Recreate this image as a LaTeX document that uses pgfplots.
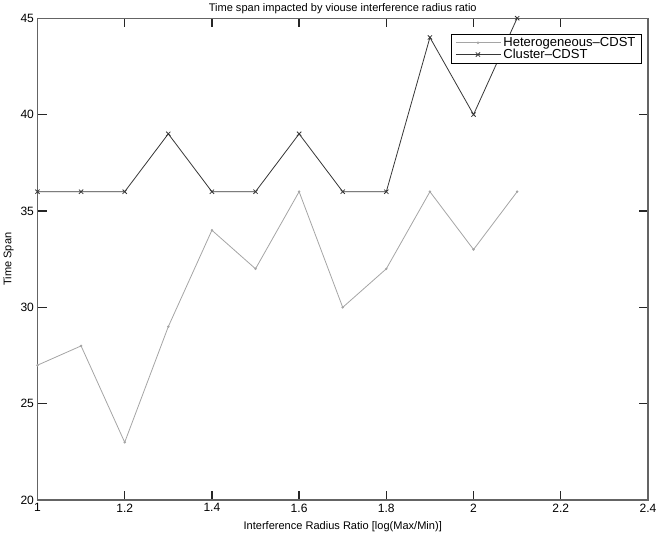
\documentclass[border=0pt]{standalone}
\usepackage{fontspec}
\setmainfont{Liberation Sans}
\usepackage{pgfplots}
\pgfplotsset{compat=1.18}
\definecolor{hetc}{RGB}{165,165,165}
\definecolor{clc}{RGB}{55,55,55}
\definecolor{axc}{RGB}{100,100,100}
\begin{document}
\begin{tikzpicture}
\begin{axis}[
  scale only axis,
  width=608pt, height=480pt,
  xmin=1, xmax=2.4, ymin=20, ymax=45,
  xtick={1,1.2,1.4,1.6,1.8,2,2.2,2.4},
  xticklabels={1,1.2,1.4,1.6,1.8,2,2.2,2.4},
  ytick={20,25,30,35,40,45},
  yticklabels={20,25,30,35,40,45},
  tick align=inside,
  tick pos=both,
  major tick length=9pt,
  axis line style={axc, line width=1.3pt},
  major tick style={draw=black!85, line width=1.3pt},
  tick label style={font=\fontsize{12}{14}\selectfont},
  title={Time span impacted by viouse interference radius ratio},
  title style={font=\fontsize{11}{13}\selectfont, yshift=-5pt},
  xlabel={Interference Radius Ratio [log(Max/Min)]},
  ylabel={Time Span},
  label style={font=\fontsize{11}{13}\selectfont},
  xlabel style={yshift=-2pt},
  legend cell align=left,
  legend style={at={(rel axis cs:0.99,0.967)}, anchor=north east, draw=black, line width=0.7pt, font=\fontsize{13}{15}\selectfont, inner xsep=4pt, inner ysep=1pt, row sep=-3pt},
  legend image code/.code={\draw[#1] (0pt,0pt) -- (45pt,0pt); \draw[#1, mark repeat=1] plot coordinates {(22pt,0pt)};},
  after end axis/.code={\path (rel axis cs:1,0) ++(15pt,0);},
]
\addplot[hetc, line width=0.8pt, mark=*, mark size=0.8pt] coordinates {
(1,27) (1.1,28) (1.2,23) (1.3,29) (1.4,34) (1.5,32) (1.6,36) (1.7,30) (1.8,32) (1.9,36) (2.0,33) (2.1,36)};
\addlegendentry{Heterogeneous--CDST}
\addplot[clc, line width=0.8pt, mark=x, mark size=3pt] coordinates {
(1,36) (1.1,36) (1.2,36) (1.3,39) (1.4,36) (1.5,36) (1.6,39) (1.7,36) (1.8,36) (1.9,44) (2.0,40) (2.1,45)};
\addlegendentry{Cluster--CDST}
\end{axis}
\end{tikzpicture}
\end{document}
